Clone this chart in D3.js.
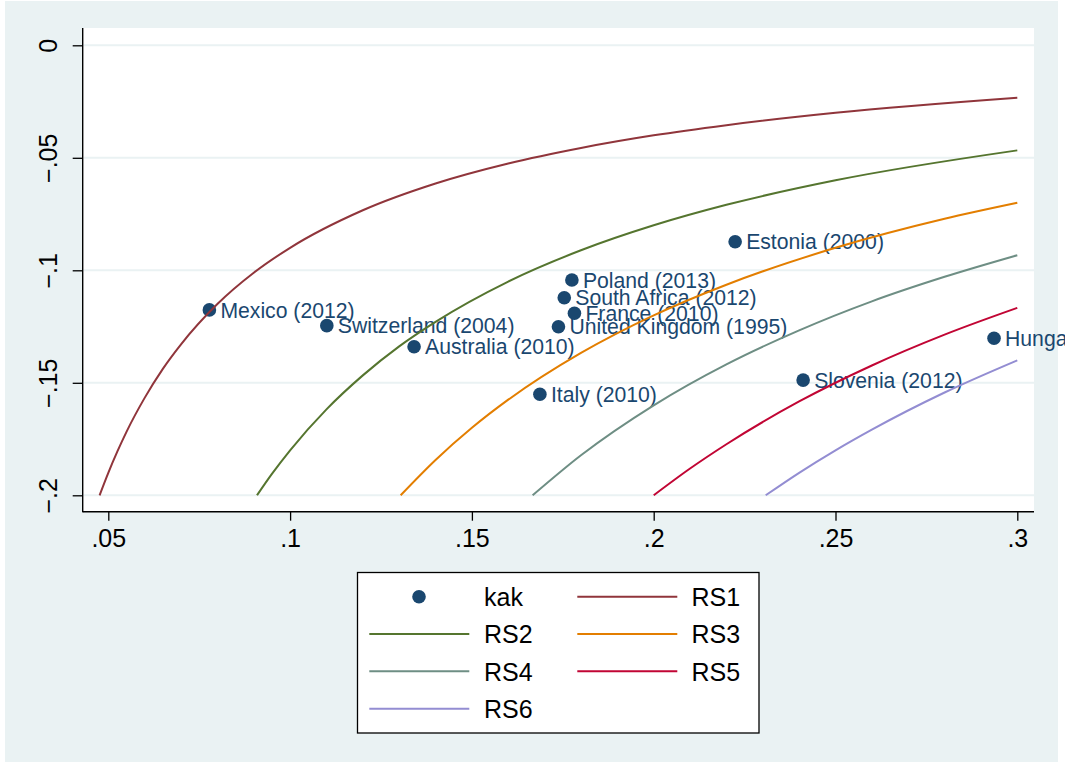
<!DOCTYPE html>
<html>
<head>
<meta charset="utf-8">
<script src="https://cdn.jsdelivr.net/npm/d3@7"></script>
<style>
  html, body { margin: 0; padding: 0; background: #ffffff; }
  svg { display: block; font-family: "Liberation Sans", Arial, Helvetica, sans-serif; }
</style>
</head>
<body>
<svg id="chart" width="1065" height="767"></svg>
<script>
// ---------- DATA ----------
const xTicks = [0.05, 0.1, 0.15, 0.2, 0.25, 0.3];
const xTickLabels = [".05", ".1", ".15", ".2", ".25", ".3"];
const yTicks = [0, -0.05, -0.1, -0.15, -0.2];
const yTickLabels = ["0", "\u2212.05", "\u2212.1", "\u2212.15", "\u2212.2"];

const countries = ["Mexico (2012)", "Switzerland (2004)", "Australia (2010)", "Italy (2010)",
  "United Kingdom (1995)", "South Africa (2012)", "Poland (2013)", "France (2010)",
  "Estonia (2000)", "Slovenia (2012)", "Hungary"];
const kakX = [0.0778, 0.1101, 0.1341, 0.1687, 0.1738, 0.1754, 0.1775, 0.1782, 0.2224, 0.2411, 0.2936];
const kakY = [-0.1176, -0.1246, -0.1340, -0.1551, -0.1251, -0.1122, -0.1043, -0.1191, -0.0873, -0.1488, -0.1302];

const rs1X = [0.0476, 0.05, 0.0525, 0.055, 0.06, 0.065, 0.07, 0.08, 0.09, 0.10, 0.12, 0.14, 0.16, 0.18, 0.20, 0.22, 0.25, 0.30];
const rs1Y = [-0.200, -0.190, -0.1805, -0.1718, -0.1567, -0.1438, -0.1329, -0.115, -0.1011, -0.090, -0.0733, -0.0614, -0.0525, -0.0456, -0.040, -0.0355, -0.030, -0.0233];
const rs2X = [0.0909, 0.095, 0.10, 0.11, 0.12, 0.13, 0.14, 0.16, 0.18, 0.20, 0.22, 0.25, 0.30];
const rs2Y = [-0.200, -0.1905, -0.180, -0.1618, -0.1467, -0.1338, -0.1229, -0.105, -0.0911, -0.080, -0.0709, -0.060, -0.0467];
const rs3X = [0.1304, 0.14, 0.15, 0.16, 0.18, 0.20, 0.22, 0.25, 0.28, 0.30];
const rs3Y = [-0.200, -0.1843, -0.170, -0.1575, -0.1367, -0.120, -0.1064, -0.090, -0.0771, -0.070];
const rs4X = [0.1667, 0.18, 0.20, 0.22, 0.24, 0.26, 0.28, 0.30];
const rs4Y = [-0.200, -0.1822, -0.160, -0.1418, -0.1267, -0.1138, -0.1029, -0.0933];
const rs5X = [0.200, 0.21, 0.22, 0.24, 0.26, 0.28, 0.30];
const rs5Y = [-0.200, -0.1881, -0.1773, -0.1583, -0.1423, -0.1286, -0.1167];
const rs6X = [0.2308, 0.24, 0.25, 0.26, 0.28, 0.30];
const rs6Y = [-0.200, -0.190, -0.180, -0.1708, -0.1543, -0.140];

const seriesNames = ["RS1", "RS2", "RS3", "RS4", "RS5", "RS6"];
const seriesColors = ["#90353b", "#55752f", "#e37e00", "#6e8e84", "#c10534", "#938dd2"];
const markerColor = "#1a476f";
const legendLabels = ["kak", "RS1", "RS2", "RS3", "RS4", "RS5", "RS6"];

// ---------- LAYOUT ----------
const svg = d3.select("#chart");
const W = 1065, H = 767;
const plotL = 82.7, plotR = 1034, plotT = 28, plotB = 511.7;

const x = d3.scaleLinear().domain([0.05, 0.3]).range([108.3, 1017.3]);
const y = d3.scaleLinear().domain([0, -0.2]).range([45.3, 495.3]);

svg.append("rect").attr("width", W).attr("height", H).attr("fill", "#ffffff");
svg.append("rect").attr("x", 5).attr("y", 1).attr("width", 1053).attr("height", 761).attr("fill", "#eaf2f3");
svg.append("rect").attr("x", plotL).attr("y", plotT).attr("width", plotR - plotL).attr("height", plotB - plotT).attr("fill", "#ffffff");

// grid
svg.append("g").selectAll("line").data(yTicks).join("line")
  .attr("x1", plotL + 1).attr("x2", plotR)
  .attr("y1", d => y(d)).attr("y2", d => y(d))
  .attr("stroke", "#eaf2f3").attr("stroke-width", 2);

// axes
const xAxis = d3.axisBottom(x).tickValues(xTicks).tickSize(9).tickSizeOuter(0)
  .tickFormat((d, i) => xTickLabels[i]);
const gx = svg.append("g").attr("transform", `translate(0,${plotB})`).call(xAxis);
gx.select(".domain").remove();
gx.selectAll(".tick line").attr("stroke", "#000").attr("stroke-width", 1.3);
gx.selectAll(".tick text").attr("font-size", 25).attr("fill", "#000")
  .attr("font-family", "Liberation Sans, Arial, sans-serif")
  .attr("y", 35).attr("dy", 0);

const yAxis = d3.axisLeft(y).tickValues(yTicks).tickSize(10).tickSizeOuter(0)
  .tickFormat((d, i) => yTickLabels[i]);
const gy = svg.append("g").attr("transform", `translate(${plotL},0)`).call(yAxis);
gy.select(".domain").remove();
gy.selectAll(".tick line").attr("stroke", "#000").attr("stroke-width", 1.3);
gy.selectAll(".tick text").attr("font-size", 25).attr("fill", "#000")
  .attr("font-family", "Liberation Sans, Arial, sans-serif")
  .attr("transform", "rotate(-90)")
  .attr("x", 0).attr("y", -25.5).attr("dy", 0)
  .attr("text-anchor", "middle");

svg.append("line").attr("x1", plotL).attr("x2", plotL).attr("y1", plotT).attr("y2", plotB + 0.6)
  .attr("stroke", "#000").attr("stroke-width", 1.4);
svg.append("line").attr("x1", plotL).attr("x2", plotR).attr("y1", plotB).attr("y2", plotB)
  .attr("stroke", "#000").attr("stroke-width", 1.4);

// points + labels
const pts = countries.map((c, i) => ({ name: c, x: kakX[i], y: kakY[i] }));
const gp = svg.append("g");
gp.selectAll("circle").data(pts).join("circle")
  .attr("cx", d => x(d.x)).attr("cy", d => y(d.y)).attr("r", 6.8)
  .attr("fill", markerColor);
gp.selectAll("text").data(pts).join("text")
  .attr("x", d => x(d.x) + 11).attr("y", d => y(d.y)).attr("dy", "0.36em")
  .attr("font-size", 21.2).attr("fill", markerColor)
  .text(d => d.name);

// lines
const seriesX = [rs1X, rs2X, rs3X, rs4X, rs5X, rs6X];
const seriesY = [rs1Y, rs2Y, rs3Y, rs4Y, rs5Y, rs6Y];
const line = d3.line().x(d => x(d[0])).y(d => y(d[1])).curve(d3.curveMonotoneX);
seriesNames.forEach((nm, k) => {
  const data = seriesX[k].map((v, i) => [v, seriesY[k][i]]);
  svg.append("path").datum(data).attr("d", line)
    .attr("fill", "none").attr("stroke", seriesColors[k]).attr("stroke-width", 2);
});

// legend
const lg = svg.append("g");
lg.append("rect").attr("x", 357.5).attr("y", 572.5).attr("width", 401.5).attr("height", 160.5)
  .attr("fill", "#ffffff").attr("stroke", "#000").attr("stroke-width", 1.3);
const colSym = [369.3, 577.3];
const colTxt = [484, 691.5];
const rowY = [596.7, 634, 671.3, 708.7];
legendLabels.forEach((lab, i) => {
  const col = i % 2, row = Math.floor(i / 2);
  const cy = rowY[row];
  if (i === 0) {
    lg.append("circle").attr("cx", 419).attr("cy", cy).attr("r", 6.8).attr("fill", markerColor);
  } else {
    lg.append("line").attr("x1", colSym[col]).attr("x2", colSym[col] + 100)
      .attr("y1", cy).attr("y2", cy)
      .attr("stroke", seriesColors[i - 1]).attr("stroke-width", 2);
  }
  lg.append("text").attr("x", colTxt[col]).attr("y", cy).attr("dy", "0.37em")
    .attr("font-size", 25).attr("fill", "#000").text(lab);
});
</script>
</body>
</html>
